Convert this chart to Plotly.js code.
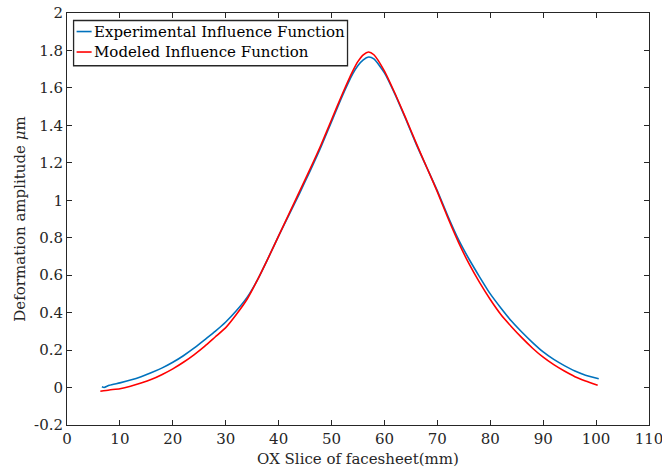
<!DOCTYPE html>
<html>
<head>
<meta charset="utf-8">
<script src="https://cdn.plot.ly/plotly-3.0.1.min.js"></script>
<style>html,body{margin:0;padding:0;background:#fff;}#chart{width:662px;height:474px;}</style>
</head>
<body>
<div id="chart"></div>
<script>
// Experimental influence function (blue)
const expX = [6.6, 7, 8, 10, 12, 14, 16, 18, 20, 22, 24, 26, 28, 30, 32, 34, 36, 38, 40, 42, 44, 46, 48, 50, 52, 54, 55, 56, 57, 58, 60, 62, 64, 66, 68, 70, 72, 74, 76, 78, 80, 82, 84, 86, 88, 90, 92, 94, 96, 98, 100.5];
const expY = [0.004, 0.0, 0.012, 0.025, 0.04, 0.058, 0.08, 0.105, 0.135, 0.17, 0.21, 0.255, 0.30, 0.35, 0.41, 0.48, 0.575, 0.69, 0.81, 0.925, 1.04, 1.16, 1.285, 1.42, 1.555, 1.675, 1.72, 1.75, 1.765, 1.755, 1.68, 1.565, 1.435, 1.30, 1.175, 1.05, 0.915, 0.79, 0.685, 0.59, 0.50, 0.425, 0.355, 0.295, 0.24, 0.19, 0.15, 0.117, 0.088, 0.066, 0.047];
// Modeled influence function (red)
const modX = [6.3, 8, 10, 12, 14, 16, 18, 20, 22, 24, 26, 28, 30, 32, 34, 36, 38, 40, 42, 44, 46, 48, 50, 52, 54, 55, 56, 57, 58, 60, 62, 64, 66, 68, 70, 72, 74, 76, 78, 80, 82, 84, 86, 88, 90, 92, 94, 96, 98, 100.3];
const modY = [-0.02, -0.013, -0.006, 0.007, 0.024, 0.044, 0.07, 0.10, 0.135, 0.175, 0.22, 0.27, 0.32, 0.39, 0.47, 0.575, 0.69, 0.81, 0.93, 1.05, 1.17, 1.295, 1.43, 1.565, 1.69, 1.742, 1.777, 1.792, 1.777, 1.69, 1.57, 1.44, 1.305, 1.175, 1.045, 0.905, 0.775, 0.66, 0.56, 0.47, 0.39, 0.325, 0.265, 0.21, 0.162, 0.122, 0.088, 0.058, 0.035, 0.012];
const xTicks = [0, 10, 20, 30, 40, 50, 60, 70, 80, 90, 100, 110];
const yTicks = [-0.2, 0, 0.2, 0.4, 0.6, 0.8, 1, 1.2, 1.4, 1.6, 1.8, 2];
const yTickText = ["-0.2", "0", "0.2", "0.4", "0.6", "0.8", "1", "1.2", "1.4", "1.6", "1.8", "2"];
const names = ["Experimental Influence Function", "Modeled Influence Function"];
const colors = ["#0072BD", "#FF0000"];

const FONT = "DejaVu Serif";
const FS = 15;
const TXT = "#262626";
const axisCommon = {
  showgrid: false, zeroline: false, showline: true, mirror: "ticks",
  linecolor: TXT, linewidth: 1, ticks: "inside", ticklen: 5, tickcolor: TXT,
  ticklabeloverflow: "allow",
  tickfont: {family: FONT, size: FS, color: TXT}
};
const traces = [
  {x: expX, y: expY, type: "scatter", mode: "lines", name: names[0], line: {color: colors[0], width: 1.6, shape: "spline", smoothing: 0.6}},
  {x: modX, y: modY, type: "scatter", mode: "lines", name: names[1], line: {color: colors[1], width: 1.6, shape: "spline", smoothing: 0.6}}
];

// legend drawn in paper coordinates
const L = {x0: 0.0113, x1: 0.482, y0: 0.872, y1: 0.9818, lx0: 0.0165, lx1: 0.0423, tx: 0.0455, rows: [0.955, 0.9053]};
const shapes = [
  {type: "rect", xref: "paper", yref: "paper", x0: L.x0, x1: L.x1, y0: L.y0, y1: L.y1, line: {color: TXT, width: 1.3}, fillcolor: "#fff", layer: "above"}
];
const annotations = [];
names.forEach((n, i) => {
  shapes.push({type: "line", xref: "paper", yref: "paper", x0: L.lx0, x1: L.lx1, y0: L.rows[i], y1: L.rows[i], line: {color: colors[i], width: 1.6}, layer: "above"});
  annotations.push({xref: "paper", yref: "paper", x: L.tx, y: L.rows[i], xanchor: "left", yanchor: "middle", text: n, showarrow: false, borderpad: 0, font: {family: FONT, size: FS, color: "#000"}});
});

const layout = {
  width: 662, height: 474,
  margin: {l: 67.4, r: 12.5, t: 13, b: 49.4},
  paper_bgcolor: "#fff", plot_bgcolor: "#fff",
  font: {family: FONT, size: FS, color: TXT},
  showlegend: false,
  xaxis: Object.assign({}, axisCommon, {
    range: [0, 110], tickvals: xTicks, ticktext: xTicks.map(String),
    title: {text: "OX Slice of facesheet(mm)", font: {family: FONT, size: FS, color: TXT}, standoff: 6}
  }),
  yaxis: Object.assign({}, axisCommon, {
    range: [-0.2, 2], tickvals: yTicks, ticktext: yTickText,
    title: {text: "Deformation amplitude <i>μ</i>m", font: {family: FONT, size: FS, color: TXT}, standoff: 4}
  }),
  shapes: shapes,
  annotations: annotations
};
Plotly.newPlot("chart", traces, layout, {staticPlot: true, displayModeBar: false});
</script>
</body>
</html>
